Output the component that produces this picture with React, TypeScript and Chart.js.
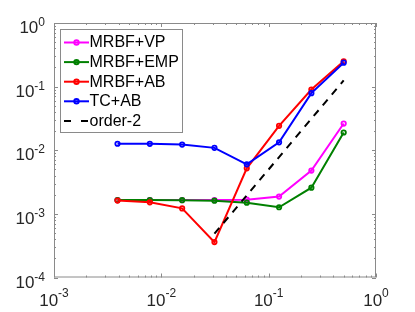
import React, { useEffect, useRef } from "react";
import { Chart, registerables } from "chart.js";

Chart.register(...registerables);

// ---- data ----
const hValues = [1 / 256, 1 / 128, 1 / 64, 1 / 32, 1 / 16, 1 / 8, 1 / 4, 1 / 2];
const vpErrors = [0.00165, 0.00165, 0.00165, 0.00165, 0.00167, 0.00187, 0.0048, 0.0263];
const empErrors = [0.00165, 0.00165, 0.00164, 0.00161, 0.0015, 0.00127, 0.00258, 0.019];
const abErrors = [0.00162, 0.00152, 0.00122, 0.00036, 0.0052, 0.0242, 0.09, 0.25];
const tcErrors = [0.01265, 0.0126, 0.0123, 0.0109, 0.006, 0.0133, 0.079, 0.238];
const orderX = [1 / 32, 1 / 2];
const orderY = [0.000488, 0.125];

const seriesLabels = ["MRBF+VP", "MRBF+EMP", "MRBF+AB", "TC+AB", "order-2"];
const seriesColors = ["#ff00ff", "#008000", "#ff0000", "#0000ff", "#000000"];

const xTickExps = [-3, -2, -1, 0];
const yTickExps = [-4, -3, -2, -1, 0];

const FONT = "'Liberation Sans', Arial, Helvetica, sans-serif";

const toPoints = (xs: number[], ys: number[]) => xs.map((x, i) => ({ x, y: ys[i] }));

const matlabAxes = {
  id: "matlabAxes",
  afterDraw(chart: any) {
    const ctx: CanvasRenderingContext2D = chart.ctx;
    const { left, right, top, bottom } = chart.chartArea;
    const xs = chart.scales.x;
    const ys = chart.scales.y;
    ctx.save();

    // box
    ctx.strokeStyle = "#8a8a8a";
    ctx.lineWidth = 1;
    ctx.strokeRect(left + 0.5, top + 0.5, right - left - 1, bottom - top - 1);

    // ticks
    ctx.beginPath();
    const xmin = xTickExps[0], xmax = xTickExps[xTickExps.length - 1];
    for (let e = xmin; e <= xmax; e++) {
      for (let m = 1; m <= 9; m++) {
        const v = m * Math.pow(10, e);
        if (v > Math.pow(10, xmax) * 1.0001) break;
        const px = Math.round(xs.getPixelForValue(v)) + 0.5;
        const len = m === 1 ? 4 : 2;
        ctx.moveTo(px, bottom);
        ctx.lineTo(px, bottom - len);
        ctx.moveTo(px, top);
        ctx.lineTo(px, top + len);
      }
    }
    const ymin = yTickExps[0], ymax = yTickExps[yTickExps.length - 1];
    for (let e = ymin; e <= ymax; e++) {
      for (let m = 1; m <= 9; m++) {
        const v = m * Math.pow(10, e);
        if (v > Math.pow(10, ymax) * 1.0001) break;
        const py = Math.round(ys.getPixelForValue(v)) + 0.5;
        const len = m === 1 ? 4 : 2;
        ctx.moveTo(left, py);
        ctx.lineTo(left + len, py);
        ctx.moveTo(right, py);
        ctx.lineTo(right - len, py);
      }
    }
    ctx.stroke();

    // tick labels
    ctx.fillStyle = "#262626";
    ctx.textBaseline = "alphabetic";
    const mainFont = `17px ${FONT}`;
    const expFont = `12px ${FONT}`;
    const expText = (e: number) => (e < 0 ? "-" + Math.abs(e) : String(e));

    xTickExps.forEach((e) => {
      const px = xs.getPixelForValue(Math.pow(10, e));
      ctx.font = mainFont;
      const w1 = ctx.measureText("10").width;
      ctx.font = expFont;
      const w2 = ctx.measureText(expText(e)).width;
      const x0 = px - (w1 + w2) / 2;
      ctx.textAlign = "left";
      ctx.font = mainFont;
      ctx.fillText("10", x0, bottom + 28);
      ctx.font = expFont;
      ctx.fillText(expText(e), x0 + w1, bottom + 19);
    });

    yTickExps.forEach((e) => {
      const py = ys.getPixelForValue(Math.pow(10, e));
      ctx.font = mainFont;
      const w1 = ctx.measureText("10").width;
      ctx.font = expFont;
      const w2 = ctx.measureText(expText(e)).width;
      const xr = left - 9;
      ctx.textAlign = "left";
      ctx.font = mainFont;
      ctx.fillText("10", xr - w2 - w1, py + 10);
      ctx.font = expFont;
      ctx.fillText(expText(e), xr - w2, py + 3);
    });

    // legend
    const lx = left + 6;
    const ly = top + 6;
    const lw = 123;
    const lh = 104;
    ctx.fillStyle = "#ffffff";
    ctx.fillRect(lx, ly, lw, lh);
    ctx.strokeStyle = "#8a8a8a";
    ctx.lineWidth = 1;
    ctx.strokeRect(lx + 0.5, ly + 0.5, lw - 1, lh - 1);

    seriesLabels.forEach((label, i) => {
      const cy = ly + 13.5 + i * 19.6;
      const color = seriesColors[i];
      ctx.strokeStyle = color;
      ctx.lineWidth = 2;
      if (i === 4) {
        ctx.beginPath();
        ctx.moveTo(lx + 4, cy);
        ctx.lineTo(lx + 11, cy);
        ctx.moveTo(lx + 21, cy);
        ctx.lineTo(lx + 28, cy);
        ctx.stroke();
      } else {
        ctx.beginPath();
        ctx.moveTo(lx + 4, cy);
        ctx.lineTo(lx + 29, cy);
        ctx.stroke();
        ctx.beginPath();
        ctx.arc(lx + 16.5, cy, 2.2, 0, Math.PI * 2);
        ctx.stroke();
      }
      ctx.fillStyle = "#000000";
      ctx.font = `16px ${FONT}`;
      ctx.textAlign = "left";
      ctx.textBaseline = "middle";
      ctx.fillText(label, lx + 29.5, cy + 0.5);
    });

    ctx.restore();
  },
};

export default function App() {
  const canvasRef = useRef<HTMLCanvasElement | null>(null);

  useEffect(() => {
    if (!canvasRef.current) return;
    const seriesData = [vpErrors, empErrors, abErrors, tcErrors];
    const datasets: any[] = seriesData.map((ys, i) => ({
      label: seriesLabels[i],
      data: toPoints(hValues, ys),
      showLine: true,
      borderColor: seriesColors[i],
      borderWidth: 2,
      pointRadius: 2.2,
      pointBorderWidth: 1.8,
      pointBorderColor: seriesColors[i],
      pointBackgroundColor: "rgba(0,0,0,0)",
      order: 5 - i,
      tension: 0,
    }));
    datasets.push({
      label: seriesLabels[4],
      data: toPoints(orderX, orderY),
      showLine: true,
      borderColor: seriesColors[4],
      borderWidth: 2,
      borderDash: [7.5, 6.5],
      pointRadius: 0,
      order: 1,
    });

    const chart = new Chart(canvasRef.current, {
      type: "scatter",
      data: { datasets },
      options: {
        animation: false,
        responsive: false,
        devicePixelRatio: 1,
        layout: { padding: { left: 54, right: 39, top: 23, bottom: 34.5 } },
        plugins: { legend: { display: false }, tooltip: { enabled: false } },
        scales: {
          x: { type: "logarithmic", min: 1e-3, max: 1, display: false },
          y: { type: "logarithmic", min: 1e-4, max: 1, display: false },
        },
      },
      plugins: [matlabAxes],
    });
    return () => chart.destroy();
  }, []);

  return (
    <div style={{ position: "absolute", left: 0, top: 0, width: 415, height: 312, background: "#fff" }}>
      <canvas ref={canvasRef} width={415} height={312} style={{ width: 415, height: 312 }} />
    </div>
  );
}
